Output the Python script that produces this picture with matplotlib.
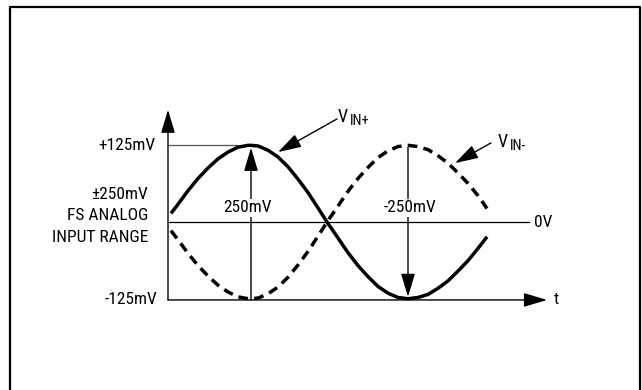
import numpy as np
import matplotlib
matplotlib.use("Agg")
import matplotlib.pyplot as plt
from matplotlib.patches import ArrowStyle

plt.rcParams['font.family'] = ['Roboto Condensed', 'Liberation Sans', 'DejaVu Sans']

# time axis (arbitrary units) and signal values (mV)
t_pts = [3, 10, 20, 30, 40, 50, 60, 70, 80, 83, 90, 100, 110, 120, 130, 140, 150, 159,
         170, 180, 190, 200, 210, 220, 230, 240, 250, 260, 270, 280, 290, 300, 310, 319]
vin_pos = [14, 29, 51, 71, 88, 103, 114, 122, 125, 125, 124, 117, 106, 90, 70, 48, 23, 0,
           -26, -50, -71, -89, -105, -116, -123, -125, -123, -118, -108, -96, -80, -63, -43, -24]
vin_neg = [-14, -29, -51, -71, -88, -103, -114, -122, -125, -125, -124, -117, -106, -90, -70, -48, -23, 0,
           26, 50, 71, 89, 105, 116, 123, 125, 123, 118, 108, 96, 80, 63, 43, 22]

v_top, v_bot = 125, -125
t_peak, t_trough = 83, 240
span_label = ['250mV', '-250mV']

# axis geometry
t_end = 379      # end of time arrow
t_zero_end = 361
t_ref_end = 69
v_axis = -127
v_arrow_top = 183

fig = plt.figure(figsize=(6.42, 3.90), dpi=100)
ax = fig.add_axes([0, 0, 1, 1])
ax.set_xlim(-168, 474)
ax.set_ylim(-273.8, 361.9)
ax.axis('off')

# frame around the figure
fig.add_artist(plt.Line2D([10/642, 10/642, 640/642, 640/642], [0, 1-7/390, 1-7/390, 0],
                          transform=fig.transFigure, color='black', lw=1.6))

head = ArrowStyle('-|>', head_length=0.4, head_width=0.12)

def arrow(x0, y0, x1, y1, lw=1.0):
    ax.annotate('', xy=(x1, y1), xytext=(x0, y0),
                arrowprops=dict(arrowstyle=head, mutation_scale=36, color='black',
                                lw=lw, shrinkA=0, shrinkB=0))

# axes
arrow(0, v_axis, 0, v_arrow_top)
arrow(0, v_axis, t_end, v_axis)
ax.plot([0, t_zero_end], [0, 0], color='black', lw=0.9)
ax.plot([0, t_ref_end], [v_top, v_top], color='#555555', lw=0.9)

# signals
ax.plot(t_pts, vin_pos, color='black', lw=2.5, solid_capstyle='butt')
ax.plot(t_pts, vin_neg, color='black', lw=2.5, linestyle=(0, (2.8, 1.8)), dash_capstyle='butt')

# span arrows
arrow(t_peak, v_axis, t_peak, v_top - 4)
arrow(t_trough, v_top - 3, t_trough, v_bot + 3)
tb = dict(facecolor='white', edgecolor='none', pad=1)
ax.text(t_peak - 3, 23, span_label[0], ha='center', va='center', fontsize=12.5, bbox=tb)
ax.text(t_trough + 2, 23, span_label[1], ha='center', va='center', fontsize=12.5, bbox=tb)

# callouts
arrow(169, 168, 110, 114)
ax.text(170, 172, 'V', ha='left', va='center', fontsize=13)
ax.text(182, 165, 'IN+', ha='left', va='center', fontsize=10.5)
arrow(323, 129, 287, 96)
ax.text(330, 131, 'V', ha='left', va='center', fontsize=13)
ax.text(342, 124, 'IN-', ha='left', va='center', fontsize=10.5)

# labels
fs = 12.5
ax.text(-13, v_top, '+125mV', ha='right', va='center', fontsize=fs)
ax.text(-11, v_axis, '-125mV', ha='right', va='center', fontsize=fs)
ax.text(-20, 45, '\u00b1250mV', ha='right', va='center', fontsize=fs)
ax.text(-20, 10, 'FS ANALOG', ha='right', va='center', fontsize=fs)
ax.text(-20, -26, 'INPUT RANGE', ha='right', va='center', fontsize=fs)
ax.text(366, 0, '0V', ha='left', va='center', fontsize=fs)
ax.text(386, v_axis, 't', ha='left', va='center', fontsize=fs)

fig.savefig('out.png', dpi=100)
